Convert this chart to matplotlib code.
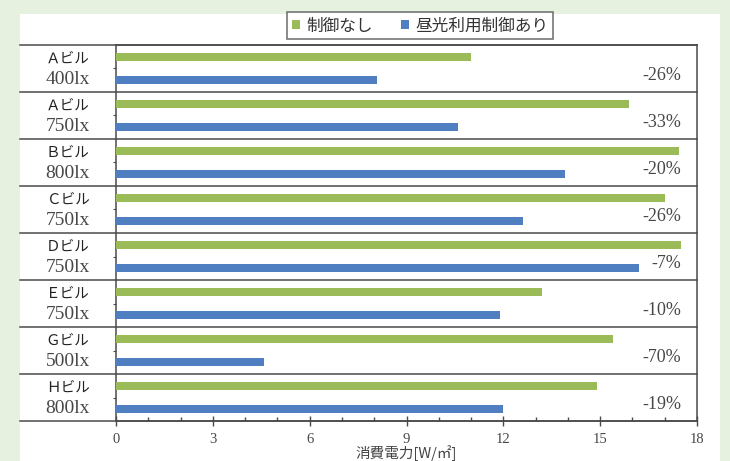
import matplotlib
matplotlib.use("Agg")
import matplotlib.pyplot as plt
from matplotlib.patches import Rectangle, Patch
from matplotlib.ticker import MultipleLocator

# Lighting power per building / design illuminance
buildings = ["Ａビル", "Ａビル", "Ｂビル", "Ｃビル", "Ｄビル", "Ｅビル", "Ｇビル", "Ｈビル"]
illuminance = ["400lx", "750lx", "800lx", "750lx", "750lx", "750lx", "500lx", "800lx"]
no_control = [11.0, 15.9, 17.45, 17.0, 17.5, 13.2, 15.4, 14.9]
daylight_control = [8.1, 10.6, 13.9, 12.6, 16.2, 11.9, 4.6, 12.0]
reduction = ["-26%", "-33%", "-20%", "-26%", "-7%", "-10%", "-70%", "-19%"]

series_names = ["制御なし", "昼光利用制御あり"]
GREEN = "#9bbb59"
BLUE = "#4f7fc0"
LINE = "#4a4a4a"
SERIF_C = "#474747"
JP = ["Noto Sans CJK JP", "DejaVu Sans"]
SERIF = ["Liberation Serif", "DejaVu Serif"]

W, H = 730, 461
fig = plt.figure(figsize=(W / 100, H / 100), dpi=100, facecolor="#e6f2df")

# white panel behind everything
fig.patches.append(Rectangle((20 / W, 0), 700 / W, 1 - 14 / H,
                             transform=fig.transFigure, facecolor="white",
                             edgecolor="none", zorder=-10))

ax = fig.add_axes([116 / W, 1 - 421 / H, (697 - 116) / W, (421 - 45) / H])
ax.set_facecolor("white")

n = len(buildings)
rows = list(range(n))
bar_h = 0.19
off = 0.245
ax.barh([r + 0.5 - off for r in rows], no_control, height=bar_h, color=GREEN, zorder=3)
ax.barh([r + 0.5 + off for r in rows], daylight_control, height=bar_h, color=BLUE, zorder=3)

ax.set_xlim(0, 18)
ax.set_ylim(n, 0)

# row separators spanning the label column as well
left_frac = (20 - 116) / (697 - 116)
for r in range(0, n + 1):
    ax.plot([left_frac, 1], [r, r], transform=ax.get_yaxis_transform(),
            color=LINE, lw=1.1, clip_on=False, zorder=4)

for sp in ["left", "right", "bottom", "top"]:
    ax.spines[sp].set_color(LINE)
    ax.spines[sp].set_linewidth(1.1)

# row labels
for r in rows:
    ax.text(-0.083, r + 0.28, buildings[r], transform=ax.get_yaxis_transform(),
            ha="center", va="center", fontsize=10.5, color="#222222", family=JP)
    ax.text(-0.083, r + 0.74, illuminance[r], transform=ax.get_yaxis_transform(),
            ha="center", va="center", fontsize=14, color=SERIF_C, family=SERIF)
    ax.text(0.973, r + 0.64, reduction[r], transform=ax.get_yaxis_transform(),
            ha="right", va="center", fontsize=13, color=SERIF_C, family=SERIF)

# x axis
ax.xaxis.set_major_locator(MultipleLocator(3))
ax.xaxis.set_minor_locator(MultipleLocator(1))
ax.tick_params(axis="x", which="major", direction="inout", length=7, width=1,
               color=LINE, labelsize=10.5, labelcolor=SERIF_C, pad=5)
ax.tick_params(axis="x", which="minor", direction="in", length=3, width=1, color=LINE)
for lbl in ax.get_xticklabels():
    lbl.set_family(SERIF)
ax.set_yticks([r + 0.5 for r in rows])
ax.set_yticklabels([])
ax.tick_params(axis="y", direction="out", length=2, width=0.8, color=LINE)
ax.set_xlabel("消費電力[W/㎡]", fontsize=10.5, color="#444444", family=JP, labelpad=0)

# legend
handles = [Patch(facecolor=GREEN, edgecolor="none"), Patch(facecolor=BLUE, edgecolor="none")]
leg = fig.legend(handles, series_names, loc="center",
                 bbox_to_anchor=(420 / W, 1 - 26 / H), ncol=2, frameon=True,
                 fancybox=False, handlelength=0.5, handleheight=0.5,
                 handletextpad=0.35, columnspacing=1.7, borderpad=0.3,
                 borderaxespad=0, prop={"family": JP, "size": 12})
leg.get_frame().set_edgecolor("#555555")
leg.get_frame().set_linewidth(1.2)
for t in leg.get_texts():
    t.set_color("#333333")

fig.savefig("out.png", dpi=100, facecolor=fig.get_facecolor())
